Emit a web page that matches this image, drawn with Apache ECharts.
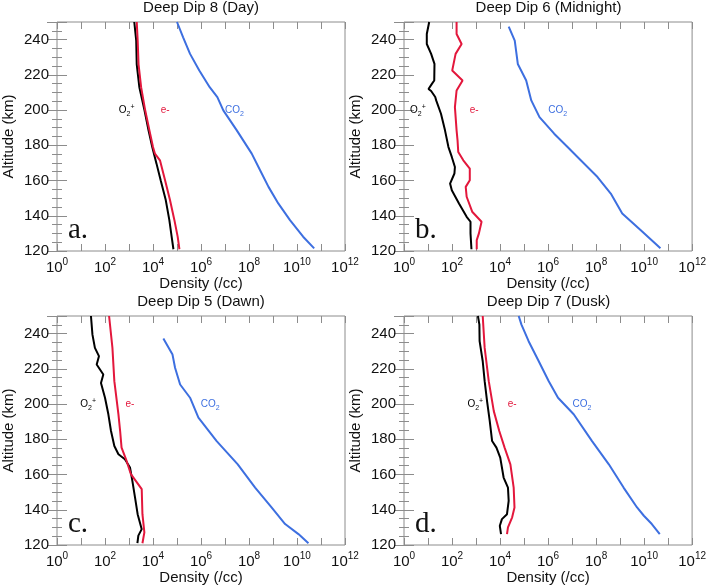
<!DOCTYPE html>
<html>
<head>
<meta charset="utf-8">
<script src="https://cdn.jsdelivr.net/npm/echarts@6/dist/echarts.min.js"></script>
<style>
  html, body { margin: 0; background: #fff; }
  #chart { width: 709px; height: 588px; }
</style>
</head>
<body>
<div id="chart"></div>
<script>
// tick labels
const densityTickExps = [0, 2, 4, 6, 8, 10, 12];
const altitudeTicks = [120, 140, 160, 180, 200, 220, 240];

// Deep Dip 8 (Day)
const dd8O2pAlt = [250, 239.4, 226, 213, 200, 188.5, 179, 169.6, 160, 148.9, 137.5, 128, 121];
const dd8O2p = [1.66e3, 2.0e3, 2.1e3, 2.7e3, 4.4e3, 6.5e3, 9.3e3, 1.4e4, 2.1e4, 3.4e4, 4.8e4, 6.0e4, 7.1e4];
const dd8ElecAlt = [250, 239.4, 226, 213, 200, 188.5, 179, 175.3, 171.5, 167.7, 160, 149, 137.5, 128, 121];
const dd8Elec = [2.1e3, 2.3e3, 2.5e3, 3.2e3, 4.7e3, 7.1e3, 1.0e4, 1.2e4, 1.95e4, 2.3e4, 3.2e4, 5.1e4, 7.8e4, 1.07e5, 1.26e5];
const dd8Co2Alt = [250, 241.3, 231.9, 222.5, 213, 207.4, 199.8, 188.5, 175.3, 165.8, 156.4, 147, 137.5, 128.1, 121.5];
const dd8Co2 = [1.0e5, 1.8e5, 3.5e5, 8.5e5, 2.3e6, 4.8e6, 8.5e6, 3.1e7, 1.3e8, 2.9e8, 6.5e8, 1.66e9, 5.1e9, 1.8e10, 5.2e10];

// Deep Dip 6 (Midnight)
const dd6O2pAlt = [250, 243.2, 237.5, 231.9, 226.2, 216.8, 214.9, 212, 210.8, 207.4, 205.5, 197.9, 188.5, 179, 173.4, 167.7, 164, 158.3, 154.5, 147, 139.4, 136.6, 130, 121];
const dd6O2p = [11.2, 8.9, 8.9, 13.5, 18.6, 18.2, 14.5, 10.5, 13.5, 20, 21.9, 34.7, 51, 71, 98, 132, 126, 83, 98, 195, 407, 589, 589, 646];
const dd6ElecAlt = [250, 243.2, 237.5, 231.9, 222.5, 216.8, 211.1, 201.7, 188.5, 182.8, 176.2, 171.5, 166.8, 160.2, 156.4, 150.8, 142.3, 136.6, 130, 126.2, 121];
const dd6Elec = [155, 155, 251, 141, 102, 275, 155, 132, 155, 170, 182, 295, 550, 550, 372, 407, 692, 1700, 1320, 1070, 1070];
const dd6Co2Alt = [247.4, 239.4, 226.2, 216.8, 205.5, 196, 186.6, 179, 171.5, 162, 152.6, 141.3, 131.9, 121.5];
const dd6Co2 = [2.3e4, 4.1e4, 5.5e4, 1.23e5, 2.0e5, 4.4e5, 1.8e6, 6.5e6, 2.3e7, 1.15e8, 4.1e8, 1.23e9, 7.1e9, 4.8e10];

// Deep Dip 5 (Dawn)
const dd5O2pAlt = [250, 239.4, 231.9, 227.2, 222.5, 216.8, 212, 203.6, 194.2, 184.7, 176.2, 171.5, 168.7, 164, 156.4, 147, 137.5, 129, 125.3, 121];
const dd5O2p = [26, 30, 38, 56, 45, 85, 68, 100, 138, 178, 245, 363, 676, 1100, 1380, 1780, 2290, 3390, 2450, 2240];
const dd5ElecAlt = [250, 231.9, 213, 194.2, 184.7, 175.3, 167.7, 160.2, 151.7, 137.5, 127.2, 121];
const dd5Elec = [148, 204, 245, 363, 427, 490, 794, 1200, 3390, 3630, 4370, 3630];
const dd5Co2Alt = [237.2, 228.1, 220.6, 211.1, 203.6, 192.3, 179, 165.8, 152.6, 141.3, 131.9, 126.2, 121];
const dd5Co2 = [2.7e4, 6.5e4, 8.3e4, 1.35e5, 3.5e5, 7.8e5, 4.5e6, 3.4e7, 1.8e8, 8.7e8, 3.2e9, 1.15e10, 3.0e10];

// Deep Dip 7 (Dusk)
const dd7O2pAlt = [250, 245.1, 235.7, 224.3, 213, 201.7, 190.4, 179, 175.3, 169.6, 158.3, 152.6, 145.1, 137.5, 134.7, 130.9, 126.2];
const dd7O2p = [1200, 1380, 1410, 1900, 2290, 2880, 3720, 4680, 7080, 1.02e4, 1.41e4, 2.14e4, 2.29e4, 1.95e4, 1.2e4, 9800, 1.1e4];
const dd7ElecAlt = [250, 231.9, 213, 196, 184.7, 175.3, 165.8, 152.6, 141.3, 135.7, 130, 126.2];
const dd7Elec = [1900, 2290, 3390, 5500, 9300, 1.55e4, 2.7e4, 3.7e4, 4.0e4, 3.2e4, 2.14e4, 1.95e4];
const dd7Co2Alt = [250, 245.1, 235.7, 224.3, 213, 203.6, 194.2, 179, 165.8, 152.6, 141.3, 136.6, 131.9, 126.2];
const dd7Co2 = [6.0e4, 7.8e4, 1.55e5, 4.1e5, 1.07e6, 2.6e6, 1.17e7, 6.8e7, 3.4e8, 1.4e9, 5.1e9, 9.8e9, 2.1e10, 4.5e10];

// species label positions [O2+, e-, CO2] (density at 200 km)
const labelAlt = 200;
const dd8LabelX = [794, 3.2e4, 2.5e7];
const dd6LabelX = [3.8, 832, 2.5e6];
const dd5LabelX = [20, 1100, 2.4e6];
const dd7LabelX = [933, 3.2e4, 2.6e7];

const BLACK = '#000000';
const RED = '#e3173c';
const BLUE = '#3d6fe0';
const FRAME = '#8c8c8c';
const FONT = 'Liberation Sans';

const panels = [
  { title: 'Deep Dip 8 (Day)', letter: 'a.', box: [57, 22, 288, 229],
    o2p: [dd8O2pAlt, dd8O2p], elec: [dd8ElecAlt, dd8Elec], co2: [dd8Co2Alt, dd8Co2], lab: dd8LabelX },
  { title: 'Deep Dip 6 (Midnight)', letter: 'b.', box: [404, 22, 289, 229],
    o2p: [dd6O2pAlt, dd6O2p], elec: [dd6ElecAlt, dd6Elec], co2: [dd6Co2Alt, dd6Co2], lab: dd6LabelX },
  { title: 'Deep Dip 5 (Dawn)', letter: 'c.', box: [57, 316, 288, 229],
    o2p: [dd5O2pAlt, dd5O2p], elec: [dd5ElecAlt, dd5Elec], co2: [dd5Co2Alt, dd5Co2], lab: dd5LabelX },
  { title: 'Deep Dip 7 (Dusk)', letter: 'd.', box: [404, 316, 289, 229],
    o2p: [dd7O2pAlt, dd7O2p], elec: [dd7ElecAlt, dd7Elec], co2: [dd7Co2Alt, dd7Co2], lab: dd7LabelX }
];

const grid = [], xAxis = [], yAxis = [], series = [], title = [];

const smallRich = {
  b: { fontSize: 10, lineHeight: 14, verticalAlign: 'middle', fontFamily: FONT },
  sub: { fontSize: 7, lineHeight: 7, verticalAlign: 'bottom', fontFamily: FONT },
  sup: { fontSize: 7, lineHeight: 7, verticalAlign: 'top', fontFamily: FONT }
};

function pairs(curve) {
  return curve[0].map((alt, k) => [curve[1][k], alt]);
}

function lineSeries(name, curve, color, xi, yi, labelX, labelText) {
  return {
    name: name,
    type: 'line',
    xAxisIndex: xi,
    yAxisIndex: yi,
    data: pairs(curve),
    showSymbol: false,
    symbol: 'none',
    silent: true,
    lineStyle: { color: color, width: 2 },
    markPoint: {
      symbol: 'circle',
      symbolSize: 0,
      silent: true,
      label: {
        show: true,
        position: 'inside',
        color: color,
        fontFamily: FONT,
        formatter: labelText,
        rich: smallRich
      },
      data: [{ coord: [labelX, labelAlt] }]
    }
  };
}

panels.forEach((p, i) => {
  const [left, top, width, height] = p.box;
  grid.push({ left: left, top: top, width: width, height: height, show: true, borderColor: FRAME, borderWidth: 1 });

  const xi = xAxis.length;
  // log axis that carries the data
  xAxis.push({ type: 'log', logBase: 10, gridIndex: i, min: 1, max: 1e12, position: 'bottom', show: false });
  // decade ticks + labels
  const decadeAxis = {
    type: 'value', gridIndex: i, min: 0, max: 12, interval: 1,
    axisLine: { show: false },
    splitLine: { show: false },
    axisTick: { inside: true, length: 7, lineStyle: { color: FRAME } }
  };
  xAxis.push(Object.assign({}, decadeAxis, {
    position: 'bottom',
    name: 'Density (/cc)', nameLocation: 'middle', nameGap: 24,
    nameTextStyle: { fontSize: 15, color: '#111', fontFamily: FONT },
    axisLabel: {
      margin: 6,
      formatter: v => densityTickExps.indexOf(v) >= 0 ? '{b|10}{s|' + v + '}' : '',
      rich: {
        b: { fontSize: 15, lineHeight: 18, verticalAlign: 'bottom', color: '#111', fontFamily: FONT },
        s: { fontSize: 10, lineHeight: 10, verticalAlign: 'top', color: '#111', fontFamily: FONT }
      }
    }
  }));
  xAxis.push(Object.assign({}, decadeAxis, { position: 'top', axisLabel: { show: false } }));

  const yi = yAxis.length;
  const altAxis = {
    type: 'value', gridIndex: i, min: 120, max: 250, interval: 20,
    axisLine: { show: false },
    splitLine: { show: false },
    axisTick: { inside: true, length: 10, lineStyle: { color: FRAME } },
    minorTick: { show: true, splitNumber: 4, length: 5, lineStyle: { color: FRAME } }
  };
  yAxis.push(Object.assign({}, altAxis, {
    position: 'left',
    name: 'Altitude (km)', nameLocation: 'middle', nameGap: 41,
    nameTextStyle: { fontSize: 15, color: '#111', fontFamily: FONT },
    axisLabel: {
      margin: 8, fontSize: 15, color: '#111', fontFamily: FONT,
      formatter: v => altitudeTicks.indexOf(v) >= 0 ? String(v) : ''
    }
  }));
  yAxis.push(Object.assign({}, altAxis, { position: 'right', axisLabel: { show: false } }));

  series.push(lineSeries('O2+', p.o2p, BLACK, xi, yi, p.lab[0], '{b|O}{sub|2}{sup|+}'));
  series.push(lineSeries('e-', p.elec, RED, xi, yi, p.lab[1], '{b|e-}'));
  series.push(lineSeries('CO2', p.co2, BLUE, xi, yi, p.lab[2], '{b|CO}{sub|2}'));

  title.push({
    text: p.title, left: left + width / 2, top: top - 22, textAlign: 'left', padding: 0,
    textStyle: { fontSize: 15, fontWeight: 'normal', color: '#111', fontFamily: FONT }
  });
  title.push({
    text: p.letter, left: left + 11, top: top + height - 35, padding: 0,
    textStyle: { fontSize: 29, fontWeight: 'normal', color: '#111', fontFamily: 'Liberation Serif' }
  });
});

// center titles over their panels
title.forEach((t, k) => {
  if (k % 2 === 0) { t.textAlign = 'center'; }
});

const chart = echarts.init(document.getElementById('chart'));
chart.setOption({
  animation: false,
  backgroundColor: '#ffffff',
  title: title,
  grid: grid,
  xAxis: xAxis,
  yAxis: yAxis,
  series: series
});
</script>
</body>
</html>
